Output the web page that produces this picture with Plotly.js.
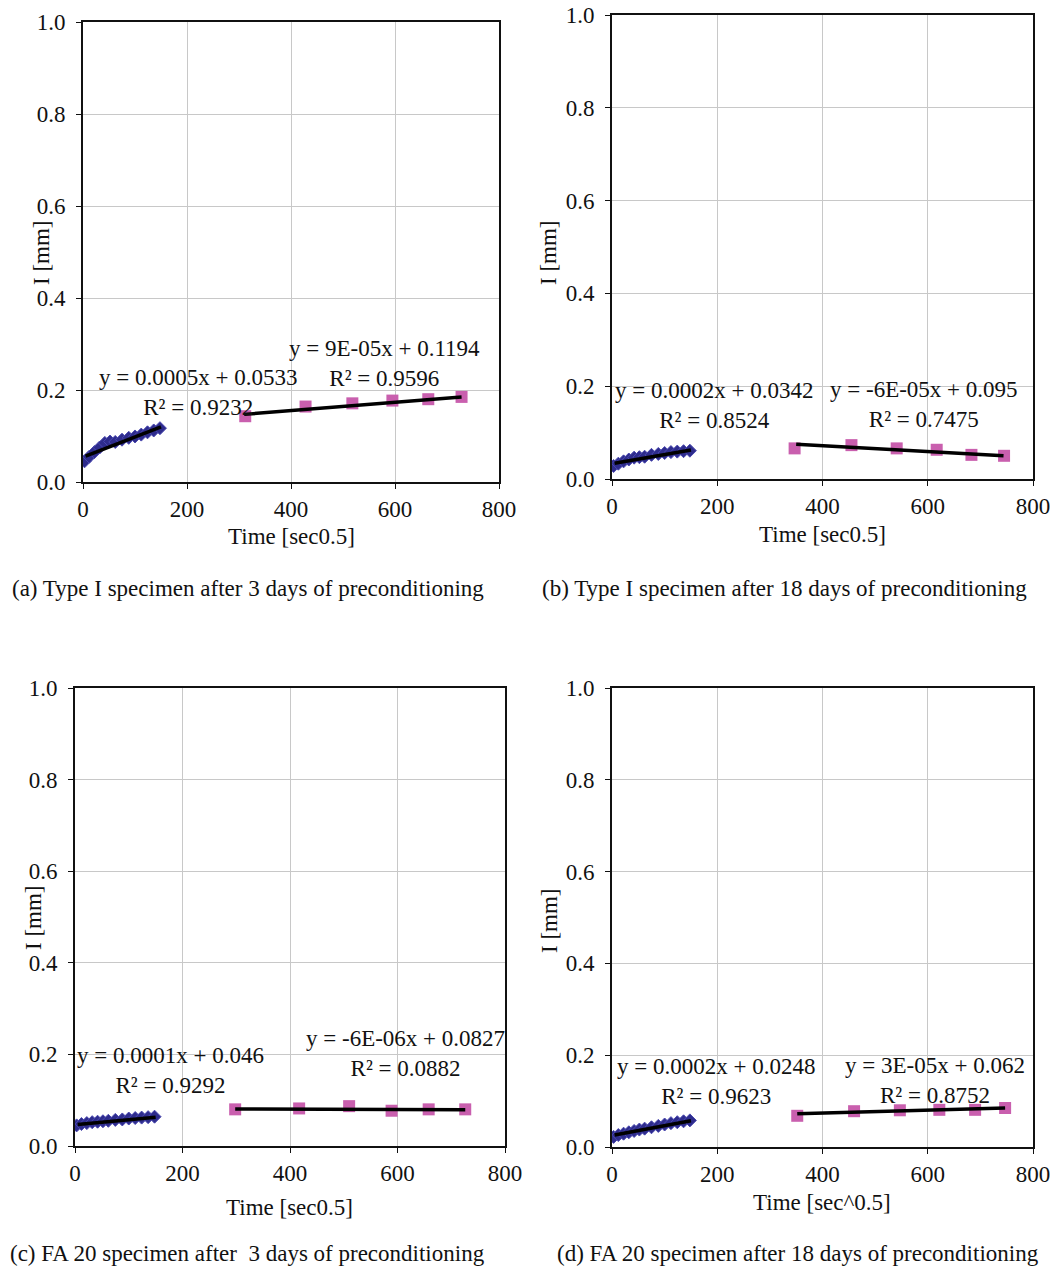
<!DOCTYPE html>
<html><head><meta charset="utf-8">
<script src="https://cdn.plot.ly/plotly-3.0.1.min.js"></script>
<style>html,body{margin:0;padding:0;background:#fff}#c{width:1056px;height:1266px}</style>
</head><body><div id="c"></div>
<script>
// ---- data ----
const blueX = [3,12,22,32,42,52,62,75,88,100,112,124,136,148];
const aBlueY = [0.045,0.055,0.065,0.075,0.085,0.088,0.087,0.092,0.096,0.099,0.103,0.108,0.112,0.117];
const bBlueY = [0.028,0.033,0.038,0.042,0.046,0.047,0.048,0.052,0.054,0.056,0.058,0.059,0.060,0.061];
const cBlueY = [0.045,0.048,0.050,0.052,0.053,0.054,0.055,0.057,0.058,0.060,0.061,0.062,0.063,0.064];
const dBlueY = [0.022,0.026,0.029,0.032,0.035,0.038,0.040,0.043,0.046,0.049,0.052,0.054,0.056,0.058];

const aPinkX = [312,428,518,595,664,728];
const aPinkY = [0.143,0.164,0.171,0.177,0.180,0.185];
const bPinkX = [347,455,541,617,683,745];
const bPinkY = [0.066,0.073,0.066,0.063,0.052,0.050];
const cPinkX = [298,417,510,589,658,726];
const cPinkY = [0.080,0.082,0.087,0.077,0.080,0.080];
const dPinkX = [352,460,547,622,690,747];
const dPinkY = [0.068,0.078,0.080,0.081,0.081,0.085];

// trend line endpoints
const aBlueTrendX = [5,150], aBlueTrendY = [0.056,0.120];
const bBlueTrendX = [5,150], bBlueTrendY = [0.034,0.0625];
const cBlueTrendX = [5,150], cBlueTrendY = [0.047,0.063];
const dBlueTrendX = [5,150], dBlueTrendY = [0.026,0.057];
const aPinkTrendX = [310,728], aPinkTrendY = [0.147,0.185];
const bPinkTrendX = [350,744], bPinkTrendY = [0.075,0.050];
const cPinkTrendX = [298,726], cPinkTrendY = [0.081,0.079];
const dPinkTrendX = [352,747], dPinkTrendY = [0.0725,0.085];

const eqA = ["y = 0.0005x + 0.0533","R² = 0.9232","y = 9E-05x + 0.1194","R² = 0.9596"];
const eqB = ["y = 0.0002x + 0.0342","R² = 0.8524","y = -6E-05x + 0.095","R² = 0.7475"];
const eqC = ["y = 0.0001x + 0.046","R² = 0.9292","y = -6E-06x + 0.0827","R² = 0.0882"];
const eqD = ["y = 0.0002x + 0.0248","R² = 0.9623","y = 3E-05x + 0.062","R² = 0.8752"];

const xTitles = ["Time [sec0.5]","Time [sec0.5]","Time [sec0.5]","Time [sec^0.5]"];
const yTitle = "I [mm]";
const captions = [
  "(a) Type I specimen after 3 days of preconditioning",
  "(b) Type I specimen after 18 days of preconditioning",
  "(c) FA 20 specimen after  3 days of preconditioning",
  "(d) FA 20 specimen after 18 days of preconditioning"
];

// ---- layout ----
const W = 1056, H = 1266;
const FONT = "Liberation Serif, Times New Roman, serif";
const FS = 23;
const BLUE = "#2e2c8c", PINK = "#c95fae";
const panels = [
  {l:83,r:499,t:22,b:482, bx:blueX, by:aBlueY, px:aPinkX, py:aPinkY, btx:aBlueTrendX, bty:aBlueTrendY, ptx:aPinkTrendX, pty:aPinkTrendY, eq:eqA,
   eqPos:[[198,392],[384,363]], xt:[291,536], yt:[42,253], cap:[10,588]},
  {l:612,r:1033,t:15,b:479, bx:blueX, by:bBlueY, px:bPinkX, py:bPinkY, btx:bBlueTrendX, bty:bBlueTrendY, ptx:bPinkTrendX, pty:bPinkTrendY, eq:eqB,
   eqPos:[[714,406],[924,405]], xt:[822,534], yt:[549,253], cap:[540,588]},
  {l:75,r:505,t:688,b:1146, bx:blueX, by:cBlueY, px:cPinkX, py:cPinkY, btx:cBlueTrendX, bty:cBlueTrendY, ptx:cPinkTrendX, pty:cPinkTrendY, eq:eqC,
   eqPos:[[170,1070],[405,1053]], xt:[289,1207], yt:[33,918], cap:[8,1253]},
  {l:612,r:1033,t:688,b:1147, bx:blueX, by:dBlueY, px:dPinkX, py:dPinkY, btx:dBlueTrendX, bty:dBlueTrendY, ptx:dPinkTrendX, pty:dPinkTrendY, eq:eqD,
   eqPos:[[716,1081],[935,1080]], xt:[822,1202], yt:[549,921], cap:[555,1253]}
];

const traces = [];
const layout = {
  width: W, height: H, margin:{l:0,r:0,t:0,b:0}, showlegend:false,
  paper_bgcolor:"#fff", plot_bgcolor:"#fff",
  font:{family:FONT, size:FS, color:"#111"},
  annotations: []
};
const px2 = (x,y)=>({x:x/W, y:1-y/H});
const tf = {family:FONT, size:FS, color:"#111"};

panels.forEach((p,i)=>{
  const n = i+1, xa = n===1?"x":"x"+n, ya = n===1?"y":"y"+n;
  const axx = "xaxis"+(n===1?"":n), axy = "yaxis"+(n===1?"":n);
  traces.push({x:p.bx, y:p.by, xaxis:xa, yaxis:ya, mode:"markers", type:"scatter",
    marker:{symbol:"diamond", size:10, color:BLUE, line:{width:1, color:"#4a48b0"}}});
  traces.push({x:p.px, y:p.py, xaxis:xa, yaxis:ya, mode:"markers", type:"scatter",
    marker:{symbol:"square", size:12, color:PINK}});
  traces.push({x:p.btx, y:p.bty, xaxis:xa, yaxis:ya, mode:"lines", type:"scatter",
    line:{color:"#000", width:3.5}});
  traces.push({x:p.ptx, y:p.pty, xaxis:xa, yaxis:ya, mode:"lines", type:"scatter",
    line:{color:"#000", width:3.5}});
  layout[axx] = {domain:[p.l/W, p.r/W], anchor:ya, range:[0,800], dtick:200, tick0:0,
    showgrid:true, gridcolor:"#c8c8c8", gridwidth:1, zeroline:false,
    showline:true, linecolor:"#111", linewidth:2, mirror:true,
    ticks:"outside", ticklen:5, tickcolor:"#111", tickfont:tf};
  layout[axy] = {domain:[1-p.b/H, 1-p.t/H], anchor:xa, range:[0,1], dtick:0.2, tick0:0, tickformat:".1f",
    showgrid:true, gridcolor:"#c8c8c8", gridwidth:1, zeroline:false,
    showline:true, linecolor:"#111", linewidth:2, mirror:true,
    ticks:"outside", ticklen:5, tickcolor:"#111", tickfont:tf, ticklabelstandoff:6};
  for (let k=0;k<2;k++){
    const q = px2(p.eqPos[k][0], p.eqPos[k][1]);
    layout.annotations.push({text:p.eq[2*k]+"<br>"+p.eq[2*k+1], xref:"paper", yref:"paper", x:q.x, y:q.y,
      xanchor:"center", yanchor:"middle", align:"center", showarrow:false, font:tf});
  }
  let q = px2(p.xt[0], p.xt[1]);
  layout.annotations.push({text:xTitles[i], xref:"paper", yref:"paper", x:q.x, y:q.y,
    xanchor:"center", yanchor:"middle", showarrow:false, font:tf});
  q = px2(p.yt[0], p.yt[1]);
  layout.annotations.push({text:yTitle, xref:"paper", yref:"paper", x:q.x, y:q.y, textangle:-90,
    xanchor:"center", yanchor:"middle", showarrow:false, font:tf});
  q = px2(p.cap[0], p.cap[1]);
  layout.annotations.push({text:captions[i], xref:"paper", yref:"paper", x:q.x, y:q.y,
    xanchor:"left", yanchor:"middle", showarrow:false, font:tf});
});

Plotly.newPlot("c", traces, layout, {staticPlot:true, displayModeBar:false});
</script></body></html>
